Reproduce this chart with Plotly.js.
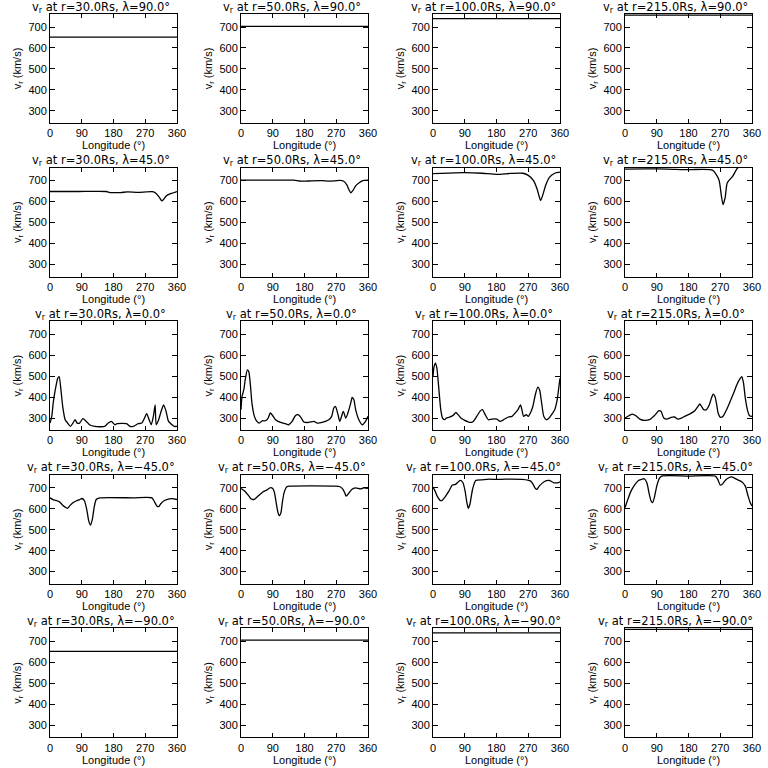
<!DOCTYPE html>
<html>
<head>
<meta charset="utf-8">
<script src="https://cdn.plot.ly/plotly-3.0.1.min.js"></script>
<style>html,body{margin:0;padding:0;background:#fff}#chart{width:768px;height:768px}</style>
</head>
<body>
<div id="chart"></div>
<script>
// ---- tick labels / categories ----
const radii = ['30.0', '50.0', '100.0', '215.0'];
const lats = ['90.0', '45.0', '0.0', '\u221245.0', '\u221290.0'];
const lonTickStep = 90;
const vTickStep = 100;
const vMinorStep = 10;

// ---- lambda = 90 (flat) ----
const lonFlat = [0, 360];
const v30_p90 = [652, 652];
const v50_p90 = [703, 703];
const v100_p90 = [740, 740];
const v215_p90 = [757, 757];

// ---- lambda = 45 ----
const lon30_p45 = [0, 80, 160, 170, 200, 220, 250, 290, 300, 310, 317, 322, 330, 340, 350, 360];
const v30_p45 = [648, 648, 648, 643, 643, 646, 644, 647, 640, 620, 603, 610, 628, 637, 642, 648];
const lon50_p45 = [0, 80, 150, 165, 180, 200, 230, 250, 280, 290, 300, 305, 311, 318, 325, 335, 345, 360];
const v50_p45 = [702, 702, 702, 698, 697, 699, 700, 697, 701, 698, 680, 660, 642, 655, 675, 690, 700, 702];
const lon100_p45 = [0, 45, 90, 140, 180, 220, 255, 270, 285, 295, 300, 305, 310, 320, 330, 345, 360];
const v100_p45 = [733, 736, 738, 735, 730, 734, 735, 725, 700, 660, 630, 605, 625, 680, 715, 735, 740];
const lon215_p45 = [0, 60, 120, 180, 220, 248, 260, 267, 273, 278, 284, 290, 305, 319, 330, 345, 360];
const v215_p45 = [755, 756, 755, 752, 754, 750, 725, 700, 630, 585, 620, 690, 720, 760, 768, 770, 770];

// ---- lambda = 0 ----
const lon30_p0 = [0, 5, 9, 15, 22, 26, 31, 36, 43, 50, 58, 65, 71, 77, 84, 93, 103, 112, 127, 155, 165, 174, 184, 190, 217, 227, 236, 250, 260, 268, 274, 281, 287, 293, 298, 301, 308, 315, 322, 329, 336, 346, 352, 360];
const v30_p0 = [276, 308, 371, 435, 490, 498, 435, 356, 292, 276, 260, 276, 292, 276, 276, 297, 284, 268, 260, 260, 276, 284, 268, 273, 273, 260, 260, 273, 276, 300, 321, 292, 268, 308, 363, 268, 292, 332, 363, 332, 284, 268, 260, 260];
const lon50_p0 = [0, 3, 8, 12, 18, 22, 27, 31, 38, 45, 52, 60, 69, 77, 83, 90, 98, 112, 126, 135, 145, 154, 162, 171, 178, 192, 207, 216, 230, 249, 257, 263, 268, 275, 280, 285, 290, 297, 303, 311, 315, 320, 325, 334, 344, 353, 360];
const v50_p0 = [340, 403, 435, 483, 530, 522, 451, 371, 308, 284, 276, 287, 287, 300, 324, 311, 292, 279, 273, 268, 284, 311, 316, 300, 281, 279, 284, 276, 279, 292, 308, 348, 355, 316, 284, 308, 332, 300, 324, 371, 398, 387, 340, 292, 268, 284, 308];
const lon100_p0 = [0, 3, 7, 11, 16, 22, 27, 33, 38, 45, 52, 59, 65, 71, 79, 90, 105, 114, 124, 133, 140, 148, 157, 167, 181, 190, 200, 214, 224, 233, 241, 248, 252, 257, 264, 270, 276, 283, 290, 297, 302, 308, 314, 321, 329, 336, 345, 352, 357, 360];
const v100_p0 = [498, 546, 562, 538, 451, 340, 300, 292, 300, 303, 308, 316, 327, 316, 300, 289, 279, 284, 308, 332, 340, 316, 292, 295, 295, 284, 292, 305, 308, 324, 340, 363, 340, 308, 316, 308, 324, 355, 411, 447, 435, 371, 308, 292, 300, 316, 340, 387, 451, 490];
const lon215_p0 = [0, 11, 21, 31, 42, 54, 69, 83, 96, 102, 110, 118, 131, 140, 150, 160, 169, 183, 198, 207, 212, 217, 223, 231, 239, 245, 250, 255, 260, 264, 271, 279, 288, 298, 308, 317, 327, 331, 336, 341, 348, 353, 360];
const v215_p0 = [300, 311, 319, 311, 295, 289, 292, 311, 335, 332, 300, 295, 303, 305, 295, 300, 308, 319, 335, 356, 367, 356, 340, 340, 363, 395, 414, 403, 363, 324, 303, 311, 340, 379, 419, 459, 490, 498, 467, 395, 332, 311, 308];

// ---- lambda = -45 ----
const lon30_m45 = [0, 8, 17, 27, 36, 46, 50, 57, 65, 74, 84, 91, 98, 105, 110, 115, 120, 125, 131, 141, 236, 289, 295, 303, 308, 314, 322, 331, 346, 360];
const v30_m45 = [652, 644, 640, 633, 617, 605, 602, 616, 629, 637, 644, 649, 637, 589, 541, 522, 549, 605, 644, 652, 652, 652, 637, 613, 610, 624, 637, 644, 648, 644];
const lon50_m45 = [0, 11, 21, 28, 38, 47, 57, 63, 73, 82, 90, 95, 99, 104, 108, 113, 117, 122, 130, 139, 267, 281, 288, 294, 298, 305, 314, 324, 339, 348, 360];
const v50_m45 = [697, 684, 664, 648, 645, 658, 673, 681, 689, 700, 697, 676, 636, 588, 567, 580, 628, 676, 705, 708, 708, 705, 695, 676, 660, 673, 692, 700, 695, 700, 697];
const lon100_m45 = [0, 6, 12, 20, 26, 34, 45, 55, 64, 72, 78, 85, 91, 96, 100, 105, 112, 121, 140, 159, 178, 206, 253, 277, 283, 289, 294, 301, 315, 329, 343, 353, 360];
const v100_m45 = [703, 684, 660, 640, 640, 656, 684, 713, 716, 729, 735, 724, 684, 629, 602, 624, 692, 735, 738, 741, 740, 741, 740, 732, 719, 700, 692, 708, 729, 735, 724, 724, 729];
const lon215_m45 = [0, 8, 17, 27, 38, 47, 54, 62, 68, 74, 78, 83, 90, 97, 104, 180, 256, 263, 270, 275, 284, 294, 303, 317, 331, 341, 349, 355, 360];
const v215_m45 = [605, 644, 684, 713, 735, 740, 744, 724, 676, 637, 629, 652, 708, 744, 756, 756, 756, 740, 713, 716, 735, 748, 752, 740, 729, 708, 660, 629, 613];

// ---- lambda = -90 (flat) ----
const v30_m90 = [652, 652];
const v50_m90 = [706, 706];
const v100_m90 = [741, 741];
const v215_m90 = [758, 758];

const panels = [
  [[lonFlat, v30_p90], [lonFlat, v50_p90], [lonFlat, v100_p90], [lonFlat, v215_p90]],
  [[lon30_p45, v30_p45], [lon50_p45, v50_p45], [lon100_p45, v100_p45], [lon215_p45, v215_p45]],
  [[lon30_p0, v30_p0], [lon50_p0, v50_p0], [lon100_p0, v100_p0], [lon215_p0, v215_p0]],
  [[lon30_m45, v30_m45], [lon50_m45, v50_m45], [lon100_m45, v100_m45], [lon215_m45, v215_m45]],
  [[lonFlat, v30_m90], [lonFlat, v50_m90], [lonFlat, v100_m90], [lonFlat, v215_m90]]
];

// ---- layout geometry (pixels) ----
const S = 768;
const colL = [50, 241, 433, 625];
const W = 127;
const rowT0 = 14, rowPitch = 153.6, H = 109;
const FONT = 'Liberation Sans, Arial, sans-serif';
const TFONT = 'DejaVu Sans, sans-serif';
const YRANGE = [242, 762];

const data = [];
const layout = {
  width: S, height: S,
  margin: {l: 0, r: 0, t: 0, b: 0},
  paper_bgcolor: '#fff', plot_bgcolor: '#fff',
  showlegend: false,
  font: {family: FONT, size: 11, color: '#000'},
  annotations: []
};

let k = 0;
for (let r = 0; r < 5; r++) {
  for (let c = 0; c < 4; c++) {
    k++;
    const sfx = k === 1 ? '' : String(k);
    const msfx = String(k + 20);
    const top = rowT0 + r * rowPitch;
    const L = colL[c];
    const [xs, ys] = panels[r][c];
    data.push({
      x: xs, y: ys, type: 'scatter', mode: 'lines',
      xaxis: 'x' + sfx, yaxis: 'y' + sfx,
      line: {color: '#000', width: 1.3, shape: xs.length > 2 ? 'spline' : 'linear', smoothing: 0.6},
      hoverinfo: 'skip'
    });
    layout['xaxis' + sfx] = {
      domain: [L / S, (L + W) / S],
      anchor: 'y' + sfx,
      range: [0, 360],
      tickmode: 'linear', tick0: 0, dtick: lonTickStep,
      ticks: 'inside', ticklen: 4, tickwidth: 1, tickcolor: '#000',
      showline: true, linecolor: '#000', linewidth: 1, mirror: 'ticks',
      showgrid: false, zeroline: false,
      tickfont: {family: FONT, size: 11},
      title: {text: 'Longitude (°)', font: {family: FONT, size: 11}, standoff: 1}
    };
    layout['yaxis' + sfx] = {
      domain: [1 - (top + H) / S, 1 - top / S],
      anchor: 'x' + sfx,
      range: YRANGE,
      tickmode: 'linear', tick0: 0, dtick: vTickStep,
      ticks: 'inside', ticklen: 5, tickwidth: 1, tickcolor: '#000',
      showline: true, linecolor: '#000', linewidth: 1, mirror: 'ticks',
      showgrid: false, zeroline: false,
      tickfont: {family: FONT, size: 11},
      title: {text: 'v<sub>r</sub> (km/s)', font: {family: FONT, size: 11}, standoff: 4}
    };
    // minor y ticks via an overlaid, label-less axis
    layout['yaxis' + msfx] = {
      overlaying: 'y' + sfx,
      anchor: 'x' + sfx,
      side: 'left',
      range: YRANGE,
      tickmode: 'linear', tick0: 0, dtick: vMinorStep,
      ticks: 'inside', ticklen: 2, tickwidth: 1, tickcolor: '#000',
      showticklabels: false,
      showline: true, linecolor: '#000', linewidth: 1, mirror: 'ticks',
      showgrid: false, zeroline: false
    };
    layout.annotations.push({
      xref: 'paper', yref: 'paper',
      x: (L + W / 2 - 13) / S, y: 1 - (top - 7) / S,
      xanchor: 'center', yanchor: 'middle',
      showarrow: false,
      text: 'v<sub>r</sub> at r=' + radii[c] + 'Rs, \u03bb=' + lats[r] + '°',
      font: {family: TFONT, size: 11.5, color: '#000'}
    });
  }
}

Plotly.newPlot('chart', data, layout, {staticPlot: true, displayModeBar: false});
</script>
</body>
</html>
